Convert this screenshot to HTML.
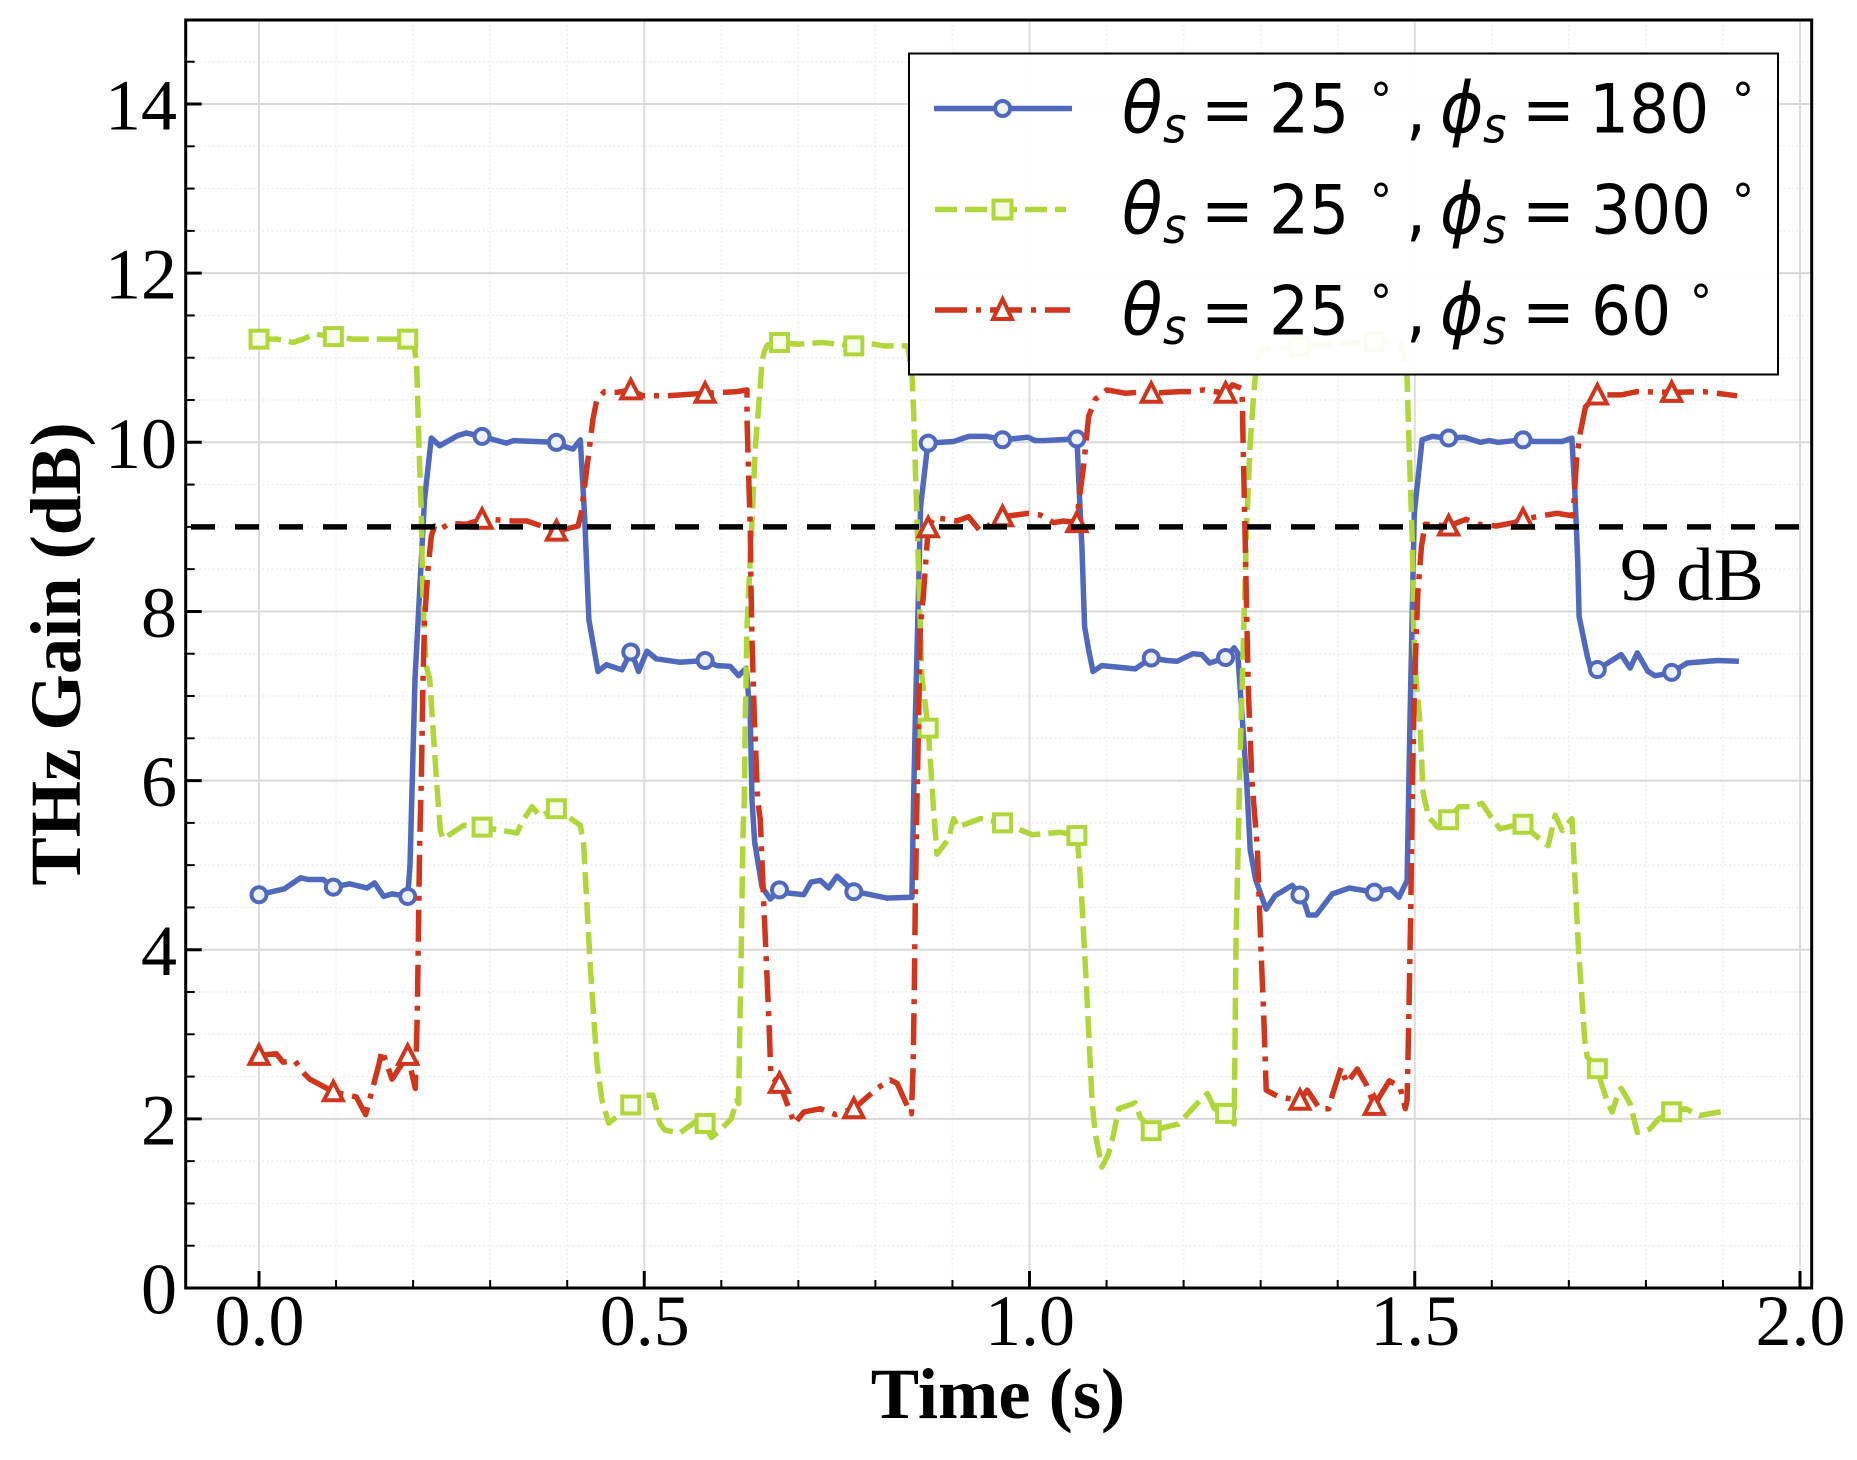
<!DOCTYPE html>
<html lang="en">
<head>
<meta charset="utf-8">
<title>THz Gain vs Time</title>
<style>
html,body{margin:0;padding:0;background:#fff;}
svg{display:block;}
.tick{font-family:"Liberation Serif",serif;font-size:72px;fill:#000;}
.title{font-family:"Liberation Serif",serif;font-size:72.5px;font-weight:bold;fill:#000;}
.leg{font-family:"DejaVu Sans",sans-serif;font-size:63px;fill:#000;}
.leg .i{font-style:italic;font-size:66px;}
.leg .sub{font-style:italic;font-size:45px;}
.leg .deg{font-size:44px;}
</style>
</head>
<body>
<svg id="chart" xmlns="http://www.w3.org/2000/svg" width="1857" height="1460" viewBox="0 0 1857 1460">
  <rect x="0" y="0" width="1857" height="1460" fill="#fff"/>
  <g id="grid"></g>
  <g id="series"></g>
  <g id="refline"></g>
  <g id="axes"></g>
  <text class="title" text-anchor="middle" transform="translate(80,654) rotate(-90)">THz Gain (dB)</text>
  <text class="title" text-anchor="middle" x="998" y="1418">Time (s)</text>
  <text class="tick" x="1620" y="600" style="font-size:75px">9 dB</text>

  <g>
    <rect x="909" y="53.5" width="869" height="321" fill="#fff" fill-opacity="0.95" stroke="#000" stroke-width="2"/>
    <g>
      <line x1="934" y1="108.5" x2="1072" y2="108.5" stroke="#5069bd" stroke-width="5.5"/>
      <circle cx="1002.6" cy="108.5" r="7.5" fill="#eef1f9" stroke="#5069bd" stroke-width="4"/>
      <text class="leg" transform="translate(0,132.7) scale(1,1.08)"><tspan class="i" x="1122">θ</tspan><tspan class="sub" x="1163" dy="9">s</tspan><tspan x="1201" dy="-9">=</tspan><tspan x="1269">25</tspan><tspan class="deg" x="1370" dy="-15">°</tspan><tspan x="1406" dy="15">,</tspan><tspan class="i" x="1440">ϕ</tspan><tspan class="sub" x="1483" dy="9">s</tspan><tspan x="1522" dy="-9">=</tspan><tspan x="1589">180</tspan><tspan class="deg" x="1732" dy="-15">°</tspan></text>
    </g>
    <g>
      <line x1="935" y1="209.5" x2="1066" y2="209.5" stroke="#b0d63c" stroke-width="5.5" stroke-dasharray="22 8"/>
      <rect x="993.5" y="200.5" width="18" height="18" fill="#f6fbe6" stroke="#b0d63c" stroke-width="4"/>
      <text class="leg" transform="translate(0,233.5) scale(1,1.08)"><tspan class="i" x="1122">θ</tspan><tspan class="sub" x="1163" dy="9">s</tspan><tspan x="1201" dy="-9">=</tspan><tspan x="1269">25</tspan><tspan class="deg" x="1370" dy="-15">°</tspan><tspan x="1406" dy="15">,</tspan><tspan class="i" x="1440">ϕ</tspan><tspan class="sub" x="1483" dy="9">s</tspan><tspan x="1522" dy="-9">=</tspan><tspan x="1591">300</tspan><tspan class="deg" x="1732" dy="-15">°</tspan></text>
    </g>
    <g>
      <line x1="935" y1="310" x2="1070" y2="310" stroke="#d0351e" stroke-width="5.5" stroke-dasharray="32 9 5 9"/>
      <path d="M1002.6 299 L1012 319 L993 319 Z" fill="#fff" stroke="#d0351e" stroke-width="4"/>
      <text class="leg" transform="translate(0,334.5) scale(1,1.08)"><tspan class="i" x="1122">θ</tspan><tspan class="sub" x="1163" dy="9">s</tspan><tspan x="1201" dy="-9">=</tspan><tspan x="1269">25</tspan><tspan class="deg" x="1370" dy="-15">°</tspan><tspan x="1406" dy="15">,</tspan><tspan class="i" x="1440">ϕ</tspan><tspan class="sub" x="1483" dy="9">s</tspan><tspan x="1522" dy="-9">=</tspan><tspan x="1591">60</tspan><tspan class="deg" x="1690" dy="-15">°</tspan></text>
    </g>
  </g>
</svg>
<script>
// ---- data ----
const xMajorTicks = [0.0, 0.5, 1.0, 1.5, 2.0];
const xTickLabels = ["0.0", "0.5", "1.0", "1.5", "2.0"];
const xMinorTicks = [0.1,0.2,0.3,0.4,0.6,0.7,0.8,0.9,1.1,1.2,1.3,1.4,1.6,1.7,1.8,1.9];
const yMajorTicks = [0, 2, 4, 6, 8, 10, 12, 14];
const yTickLabels = ["0", "2", "4", "6", "8", "10", "12", "14"];
const yMinorTicks = [0.5,1,1.5,2.5,3,3.5,4.5,5,5.5,6.5,7,7.5,8.5,9,9.5,10.5,11,11.5,12.5,13,13.5,14.5];
const referenceGain = [9];
const markerTimes = [0,0.0965,0.193,0.2895,0.386,0.4825,0.579,0.6755,0.772,0.8685,0.965,1.0615,1.158,1.2545,1.351,1.4475,1.544,1.6405,1.737,1.8335];

const blueTime = [
0,.033,.054,.0636,.083,.0965,.1177,.14,.15,.1617,.1725,.193,.196,.2025,.2148,.2236,
.2345,.2582,.269,.2894,.321,.3305,.3577,.3858,.3966,.4075,.417,.4226,.4282,.44,
.451,.471,.483,.4925,.5035,.5156,.5459,.5792,.5943,.6117,.6225,.6325,.6377,.6399,.6433,.6528,.6636,
.6758,.6875,.7069,.7164,.7285,.7393,.7501,.761,.7727,.7891,.815,.8474,.8496,.8518,.8586,.8682,
.9016,.9211,.9449,.9652,.9979,1.0075,1.0184,1.0616,1.0646,1.068,1.0715,1.0767,1.0824,
1.094,1.1373,1.1577,1.1784,1.1914,1.2121,1.2238,1.2338,1.254,1.2656,1.2702,1.2818,1.2864,1.2934,1.3072,
1.3188,1.341,1.3503,1.3582,1.3619,1.3721,1.393,1.4151,1.447,1.4684,1.4795,1.4901,1.4924,1.4938,1.4994,1.5096,
1.5226,1.5434,1.5642,1.5851,1.5966,1.6082,1.6397,1.6545,1.6915,1.704,1.7078,1.7115,1.7133,1.724,1.7286,
1.7365,1.768,1.7795,1.7888,1.8027,1.812,1.8318,1.8536,1.8929,1.9207];
const blueGain = [
4.65,4.72,4.85,4.83,4.83,4.74,4.78,4.73,4.79,4.63,4.66,4.63,5.0,7.2,9.32,10.05,
9.96,10.08,10.11,10.07,9.99,10.02,10.01,10.0,9.95,9.92,10.03,9.13,7.9,7.29,
7.37,7.31,7.53,7.29,7.53,7.44,7.40,7.42,7.36,7.35,7.24,7.33,6.72,5.77,5.27,4.74,4.60,
4.71,4.67,4.65,4.80,4.82,4.73,4.87,4.78,4.68,4.66,4.61,4.62,5.77,6.72,9.24,9.99,
10.01,10.07,10.07,10.03,10.06,10.02,10.02,10.04,9.4,8.77,7.82,7.55,7.29,
7.36,7.32,7.45,7.42,7.41,7.5,7.49,7.39,7.45,7.57,7.51,6.0,5.18,4.83,4.48,
4.64,4.76,4.66,4.52,4.41,4.41,4.66,4.73,4.68,4.72,4.62,4.82,6.0,6.72,9.16,10.03,
10.07,10.05,10.06,10.0,10.02,10.0,10.03,10.01,10.01,10.05,9.4,8.61,7.94,7.47,7.31,
7.31,7.49,7.33,7.51,7.29,7.24,7.27,7.39,7.42,7.41];

const greenTime = [
0,.0225,.0355,.044,.057,.0722,.0965,.122,.1566,.193,.202,.2046,.2063,.2085,.2106,.212,.2137,.2171,.2215,.231,.2353,.2388,
.2657,.2894,.3348,.3413,.3543,.3651,.3867,.4062,.417,.4213,.43,.4387,.4452,.4538,.4689,.4819,.5005,.5113,.52,.5264,.5459,.5654,.5783,.587,.5978,.6129,.6203,
.6225,.6239,.6256,.6282,.6299,.6312,.6334,.6386,.6442,.6498,.6529,.656,.66,.675,.6996,.7305,.772,.792,.811,.842,
.8475,.8496,.8518,.857,.8604,.8669,.8685,.8756,.88,.895,.9016,.9068,.9362,.9652,.9849,1.0032,1.0398,1.0616,1.0637,1.0681,1.0746,1.0811,1.0854,1.094,
1.1027,1.1091,1.1156,1.1373,1.1437,1.158,1.1935,1.2195,1.2309,1.24,1.254,1.2656,1.2665,1.268,1.2712,1.2725,1.2748,1.2781,1.2818,1.2864,1.2911,1.2943,1.2956,
1.3,1.351,1.4,1.4475,1.482,1.49,1.4925,1.4948,1.497,1.4985,1.5017,1.5063,1.511,1.518,1.5295,1.5434,1.5573,1.5712,1.5874,1.599,1.6105,1.6397,1.6592,1.6731,1.6823,1.6915,1.704,
1.7078,1.7124,1.717,1.7207,1.724,1.7365,1.7425,1.7494,1.7563,1.761,1.768,1.7795,1.7888,1.805,1.8165,1.8318,1.8513,1.8698,1.9068];
const greenGain = [
11.22,11.22,11.2,11.18,11.22,11.28,11.25,11.22,11.22,11.22,11.1,10.94,10.35,9.72,9.17,8.5,7.9,7.35,7.2,5.92,5.41,5.31,
5.47,5.45,5.38,5.51,5.69,5.58,5.67,5.54,5.47,5.25,3.8,2.65,2.22,1.95,2.06,2.16,2.28,2.28,1.95,1.87,1.83,1.96,1.96,1.78,1.86,2.0,2.22,
2.18,3.0,3.8,5.37,5.77,6.72,7.82,8.81,9.95,10.58,10.96,11.08,11.15,11.18,11.16,11.18,11.14,11.17,11.14,11.14,
10.78,10.39,9.72,8.2,7.23,6.74,6.62,5.65,5.13,5.31,5.55,5.45,5.55,5.5,5.43,5.36,5.39,5.35,5.13,4.54,3.44,2.22,1.82,1.43,
1.59,1.82,2.12,2.19,2.02,1.86,1.94,2.2,2.3,2.12,2.07,1.94,2.65,4.1,5.4,6.0,6.74,7.82,9.0,9.99,10.58,10.9,10.93,
11.1,11.13,11.17,11.19,11.18,10.78,9.99,9.4,8.77,7.82,7.19,6.74,5.85,5.57,5.45,5.53,5.69,5.69,5.73,5.57,5.43,5.49,5.33,5.23,5.59,5.41,5.55,
4.86,4.03,3.44,2.93,2.73,2.61,2.41,2.22,2.08,2.22,2.36,2.18,1.84,1.88,2.0,2.08,2.12,2.04,2.1];

const redTime = [
0,.0225,.0311,.0463,.0571,.0657,.0965,.1155,.1263,.1384,.1458,.1557,.1596,.1726,.193,.2029,.2055,.2072,.2085,.2107,.2128,.2149,.2193,.2236,.2279,.2345,
.2474,.269,.2894,.2971,.3305,.3478,.386,.4141,.4183,.4226,.4291,.4334,.4386,.4486,.4637,.4825,.4983,.5307,.579,.6029,.6204,.6334,.6334,.6355,.6377,.6386,.6399,.642,.6429,
.6472,.6506,.6549,.6592,.6623,.6644,.6755,.6896,.6948,.7069,.7285,.748,.772,.8021,.8194,.8281,.8389,.8467,.8489,.8506,.8518,.854,.8561,.8583,.8626,.8685,
.8756,.8929,.9058,.921,.9361,.9493,.965,.9989,1.014,1.0313,1.0443,1.0615,1.0638,1.0702,1.0768,1.0854,1.1005,1.1243,1.1395,1.158,1.1957,1.2108,1.2259,1.2545,1.2633,1.2748,1.2762,1.2772,1.2795,1.2818,1.2841,1.2855,
1.2887,1.2957,1.3003,1.304,1.3072,1.3235,1.351,1.3605,1.3767,1.3883,1.393,1.4046,1.4115,1.4255,1.4369,1.4475,1.467,1.4809,1.4878,1.4901,1.4924,1.4948,1.4971,1.4994,1.504,1.5087,1.5133,
1.544,1.5665,1.5827,1.6058,1.6289,1.6405,1.6707,1.6846,1.7054,1.7068,1.7101,1.7147,1.7216,1.737,1.768,1.7888,1.8335,1.8744,1.9184];
const redGain = [
2.75,2.77,2.67,2.69,2.55,2.47,2.32,2.28,2.26,2.05,2.3,2.65,2.81,2.47,2.75,2.36,3.24,4.35,5.21,6.0,7.2,7.9,8.5,8.89,9.01,8.97,
9.04,9.03,9.09,9.09,9.07,9.07,8.95,9.01,9.17,9.48,9.95,10.27,10.51,10.6,10.59,10.62,10.55,10.55,10.58,10.59,10.6,10.62,10.27,9.6,8.97,8.3,7.67,7.0,6.72,
5.77,5.53,4.58,3.72,3.05,2.49,2.42,2.08,1.94,2.08,2.12,2.05,2.12,2.36,2.46,2.42,2.2,2.06,2.61,3.6,4.58,5.77,6.72,7.82,8.22,8.99,
9.11,9.09,9.07,9.12,8.95,9.03,9.12,9.16,9.14,9.05,9.07,9.05,9.28,9.72,10.31,10.51,10.62,10.58,10.59,10.58,10.6,10.6,10.62,10.58,10.68,10.64,10.5,9.99,9.01,8.02,7.04,6.72,
6.0,5.21,4.03,3.24,2.34,2.26,2.22,2.34,2.12,2.12,2.28,2.61,2.42,2.59,2.41,2.16,2.45,2.38,2.12,2.22,3.24,4.43,6.0,7.04,8.22,8.77,9.03,
9.01,9.09,9.03,9.01,9.05,9.09,9.14,9.16,9.13,9.32,9.8,10.11,10.42,10.56,10.56,10.6,10.59,10.6,10.55];

// ---- axis functions ----
const plotLeft = 185.7, plotRight = 1811.7, plotTop = 20, plotBottom = 1288;
const xOrigin = 259, xPerSecond = 770.5, yPerDb = 84.57;
function xScale(t) { return xOrigin + t * xPerSecond; }
function yScale(g) { return plotBottom - g * yPerDb; }

const NS = "http://www.w3.org/2000/svg";
function make(parent, tag, attrs, text) {
  const el = document.createElementNS(NS, tag);
  for (const k in attrs) el.setAttribute(k, attrs[k]);
  if (text !== undefined) el.textContent = text;
  parent.appendChild(el);
  return el;
}
function interp(ts, gs, t) {
  for (let i = 1; i < ts.length; i++) {
    if (t <= ts[i]) {
      const d = ts[i] - ts[i - 1];
      return d <= 0 ? gs[i] : gs[i - 1] + (gs[i] - gs[i - 1]) * (t - ts[i - 1]) / d;
    }
  }
  return gs[gs.length - 1];
}

// ---- grid ----
const gridG = document.getElementById("grid");
yMinorTicks.forEach(function (v) {
  const el = make(gridG, "line", {x1: plotLeft, x2: plotRight, y1: yScale(v), y2: yScale(v), stroke: "#ececec", "stroke-width": 1.5, "stroke-dasharray": "2 2.5"});
  
  
});
xMinorTicks.forEach(function (v) {
  const el = make(gridG, "line", {x1: xScale(v), x2: xScale(v), y1: plotTop, y2: plotBottom, stroke: "#efefef", "stroke-width": 1.5, "stroke-dasharray": "2 2.5"});
  
  
});
yMajorTicks.forEach(function (v) {
  const el = make(gridG, "line", {x1: plotLeft, x2: plotRight, y1: yScale(v), y2: yScale(v), stroke: "#d8d8d8", "stroke-width": 2});
  
  
});
xMajorTicks.forEach(function (v) {
  const el = make(gridG, "line", {x1: xScale(v), x2: xScale(v), y1: plotTop, y2: plotBottom, stroke: "#dcdcdc", "stroke-width": 2});
  
  
});

// ---- series ----
const seriesG = document.getElementById("series");
function pointsOf(ts, gs) {
  const n = Math.min(ts.length, gs.length);
  const out = [];
  for (let i = 0; i < n; i++) out.push(xScale(ts[i]).toFixed(1) + "," + yScale(gs[i]).toFixed(1));
  return out.join(" ");
}
function drawMarker(g, kind, color, fill, t, v) {
  const cx = xScale(t), cy = yScale(v);
  let m;
  if (kind === "circle") {
    m = make(g, "circle", {cx: cx, cy: cy, r: 7.5, fill: fill, stroke: color, "stroke-width": 4});
  } else if (kind === "square") {
    m = make(g, "rect", {x: cx - 8.5, y: cy - 8.5, width: 17, height: 17, fill: fill, stroke: color, "stroke-width": 4});
  } else {
    m = make(g, "path", {d: "M" + cx + " " + (cy - 10) + " L" + (cx + 9.5) + " " + (cy + 8.5) + " L" + (cx - 9.5) + " " + (cy + 8.5) + " Z", fill: fill, stroke: color, "stroke-width": 4});
  }
  return m;
}

const blueGroup = make(seriesG, "g", {});


const blueLine = make(blueGroup, "polyline", {points: pointsOf(blueTime, blueGain), fill: "none", stroke: "#5069bd", "stroke-width": 5.5, "stroke-linejoin": "round"});


markerTimes.forEach(function (t) {
  const m = drawMarker(blueGroup, "circle", "#5069bd", "#eef1f9", t, interp(blueTime, blueGain, t));
  
  
});

const greenGroup = make(seriesG, "g", {});


const greenLine = make(greenGroup, "polyline", {points: pointsOf(greenTime, greenGain), fill: "none", stroke: "#b0d63c", "stroke-width": 5.5, "stroke-dasharray": "22 8", "stroke-linejoin": "round"});


markerTimes.forEach(function (t) {
  const m = drawMarker(greenGroup, "square", "#b0d63c", "#f8fcea", t, interp(greenTime, greenGain, t));
  
  
});

const redGroup = make(seriesG, "g", {});


const redLine = make(redGroup, "polyline", {points: pointsOf(redTime, redGain), fill: "none", stroke: "#d0351e", "stroke-width": 5.5, "stroke-dasharray": "32 9 5 9", "stroke-linejoin": "round"});


markerTimes.forEach(function (t) {
  const m = drawMarker(redGroup, "triangle", "#d0351e", "#ffffff", t, interp(redTime, redGain, t));
  
  
});

// ---- 9 dB reference ----
const refG = document.getElementById("refline");
const refLine = make(refG, "line", {x1: 191, x2: 1810, y1: yScale(referenceGain[0]), y2: yScale(referenceGain[0]), stroke: "#000", "stroke-width": 5.5, "stroke-dasharray": "24 20"});



// ---- axes ----
const axesG = document.getElementById("axes");
yMajorTicks.forEach(function (v, i) {
  const t = make(axesG, "line", {x1: plotLeft, x2: plotLeft + 16, y1: yScale(v), y2: yScale(v), stroke: "#000", "stroke-width": 3});
  
  
  const l = make(axesG, "text", {x: 177, y: yScale(v) + 25.5, "text-anchor": "end", "class": "tick"}, yTickLabels[i]);
  
  
});
yMinorTicks.forEach(function (v) {
  const t = make(axesG, "line", {x1: plotLeft, x2: plotLeft + 9, y1: yScale(v), y2: yScale(v), stroke: "#000", "stroke-width": 2});
  
  
});
xMajorTicks.forEach(function (v, i) {
  const t = make(axesG, "line", {x1: xScale(v), x2: xScale(v), y1: plotBottom, y2: plotBottom - 17, stroke: "#000", "stroke-width": 3});
  
  
  const l = make(axesG, "text", {x: xScale(v) + 0.5, y: 1345, "text-anchor": "middle", "class": "tick"}, xTickLabels[i]);
  
  
});
xMinorTicks.forEach(function (v) {
  const t = make(axesG, "line", {x1: xScale(v), x2: xScale(v), y1: plotBottom, y2: plotBottom - 8, stroke: "#000", "stroke-width": 2});
  
  
});
const frame = make(axesG, "rect", {x: plotLeft, y: plotTop, width: plotRight - plotLeft, height: plotBottom - plotTop, fill: "none", stroke: "#000", "stroke-width": 3});


</script>
</body>
</html>
